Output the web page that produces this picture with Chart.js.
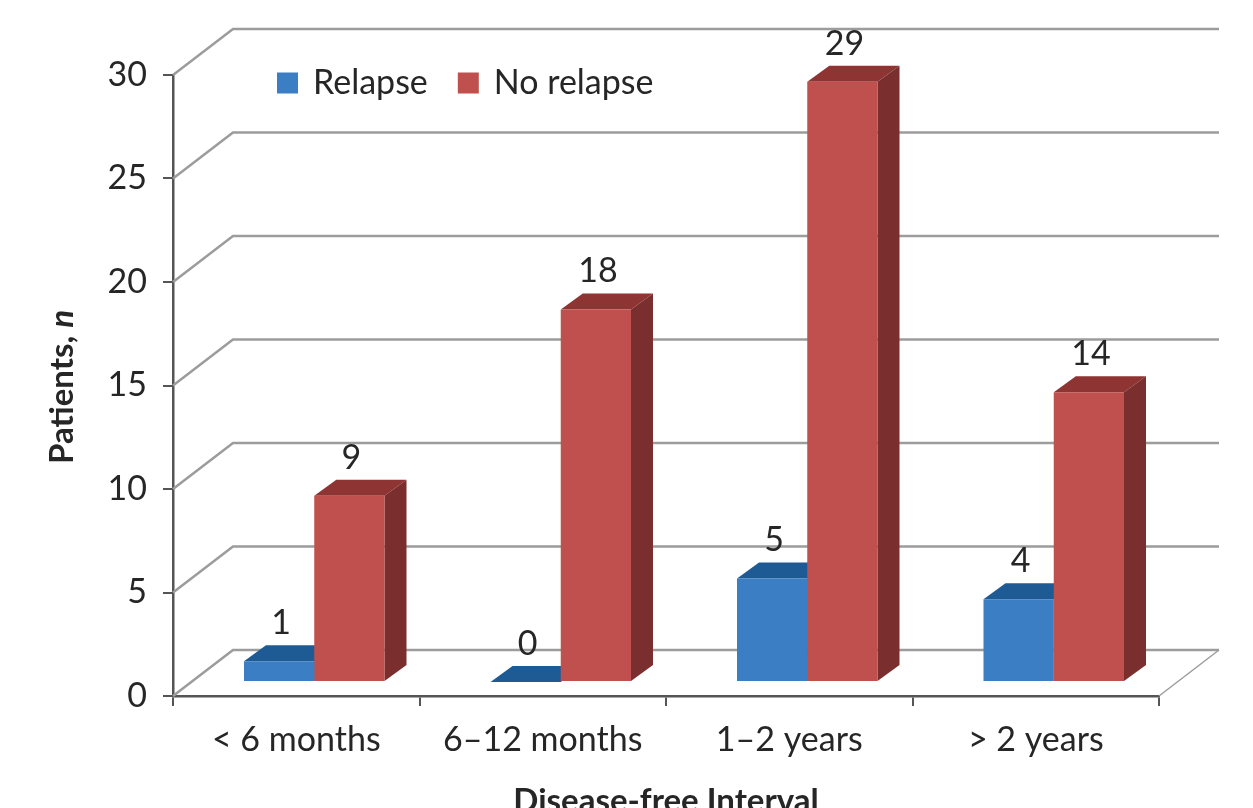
<!DOCTYPE html>
<html>
<head>
<meta charset="utf-8">
<script src="https://cdn.jsdelivr.net/npm/chart.js@4.4.0/dist/chart.umd.min.js"></script>
<style>
  html, body { margin: 0; padding: 0; background: #fff; }
  #wrap { width: 1253px; height: 808px; }
</style>
</head>
<body>
<div id="wrap"><canvas id="myChart" width="1253" height="808"></canvas></div>
<script>
// данные с картинки
const categories = ['< 6 months', '6–12 months', '1–2 years', '> 2 years'];
const relapse = [1, 0, 5, 4];
const noRelapse = [9, 18, 29, 14];
const seriesNames = ['Relapse', 'No relapse'];

const FONT = 'Lato, "Open Sans", sans-serif';
const TXT = '#262626';

// псевдо-3D: глубина стенки, сдвиг столбиков и их толщина
const WX = 60, WY = -46;
const BX = 18, BY = -14;
const DX = 22, DY = -16;
const faceColors = [
    { top: '#1e5b95', side: '#1d5389' },
    { top: '#8e3432', side: '#7a2e2d' }
];

const threeD = {
    id: 'threeD',
    beforeDatasetsDraw(chart) {
        const { ctx, chartArea: a, scales: { y } } = chart;
        ctx.save();
        // стенка с линиями сетки
        ctx.strokeStyle = '#9c9c9c';
        ctx.lineWidth = 2.5;
        y.ticks.forEach(t => {
            const py = y.getPixelForValue(t.value);
            ctx.beginPath();
            ctx.moveTo(a.left, py);
            ctx.lineTo(a.left + WX, py + WY);
            ctx.lineTo(a.right + WX, py + WY);
            ctx.stroke();
        });
        // правый край пола
        ctx.lineWidth = 1.5;
        ctx.beginPath();
        ctx.moveTo(a.right, a.bottom);
        ctx.lineTo(a.right + WX, a.bottom + WY);
        ctx.stroke();

        // верх и бок столбиков (перед ними потом рисуется лицевая грань)
        chart.data.datasets.forEach((ds, i) => {
            const meta = chart.getDatasetMeta(i);
            meta.data.forEach(el => {
                const p = el.getProps(['x', 'y', 'base', 'width'], true);
                const l = p.x - p.width / 2 + BX;
                const r = p.x + p.width / 2 + BX;
                const t = p.y + BY;
                const b = p.base + BY;
                ctx.fillStyle = faceColors[i].top;
                ctx.beginPath();
                ctx.moveTo(l, t);
                ctx.lineTo(l + DX, t + DY);
                ctx.lineTo(r + DX, t + DY);
                ctx.lineTo(r, t);
                ctx.closePath();
                ctx.fill();
                ctx.fillStyle = faceColors[i].side;
                ctx.beginPath();
                ctx.moveTo(r, t);
                ctx.lineTo(r + DX, t + DY);
                ctx.lineTo(r + DX, b + DY);
                ctx.lineTo(r, b);
                ctx.closePath();
                ctx.fill();
            });
        });
        ctx.restore();
        ctx.save();
        ctx.translate(BX, BY);
    },
    afterDatasetsDraw(chart) {
        const { ctx } = chart;
        ctx.restore();
        // подписи значений
        ctx.save();
        ctx.font = '34px ' + FONT;
        ctx.fillStyle = TXT;
        ctx.textAlign = 'center';
        ctx.textBaseline = 'middle';
        chart.data.datasets.forEach((ds, i) => {
            const meta = chart.getDatasetMeta(i);
            meta.data.forEach((el, j) => {
                const p = el.getProps(['x', 'y'], true);
                ctx.fillText(String(ds.data[j]), p.x + BX + 2, p.y + BY - 38);
            });
        });
        ctx.restore();
    },
    afterDraw(chart) {
        const { ctx, chartArea: a } = chart;
        ctx.save();
        // легенда
        ctx.font = '34px ' + FONT;
        ctx.textBaseline = 'middle';
        let lx = 277;
        const ly = 83;
        chart.data.datasets.forEach(ds => {
            ctx.fillStyle = ds.backgroundColor;
            ctx.fillRect(lx, ly - 10.5, 21, 21);
            ctx.fillStyle = TXT;
            ctx.textAlign = 'left';
            ctx.fillText(ds.label, lx + 36, ly);
            lx += 36 + ctx.measureText(ds.label).width + 30;
        });
        // подпись оси X
        ctx.font = 'bold 33px ' + FONT;
        ctx.textAlign = 'center';
        ctx.fillText('Disease-free Interval', (a.left + a.right) / 2, 801);
        // подпись оси Y с курсивной n
        ctx.translate(62, 387);
        ctx.rotate(-Math.PI / 2);
        const part1 = 'Patients, ';
        const w1 = ctx.measureText(part1).width;
        ctx.font = 'italic bold 33px ' + FONT;
        const w2 = ctx.measureText('n').width;
        ctx.textAlign = 'left';
        ctx.font = 'bold 33px ' + FONT;
        ctx.fillText(part1, -(w1 + w2) / 2, 0);
        ctx.font = 'italic bold 33px ' + FONT;
        ctx.fillText('n', -(w1 + w2) / 2 + w1, 0);
        ctx.restore();
    }
};

const ctx = document.getElementById('myChart').getContext('2d');
const myChart = new Chart(ctx, {
    type: 'bar',
    data: {
        labels: categories,
        datasets: [{
            label: seriesNames[0],
            data: relapse,
            backgroundColor: '#3b7ec3',
            clip: false
        }, {
            label: seriesNames[1],
            data: noRelapse,
            backgroundColor: '#c0504d',
            clip: false
        }]
    },
    options: {
        responsive: false,
        animation: false,
        layout: { padding: { top: 75, right: 94, left: 0, bottom: 0 } },
        plugins: {
            legend: { display: false },
            tooltip: { enabled: false }
        },
        datasets: {
            bar: {
                categoryPercentage: 0.57,
                barPercentage: 1,
                borderWidth: 0
            }
        },
        scales: {
            x: {
                afterFit: (s) => { s.height = 112; },
                grid: {
                    drawOnChartArea: false,
                    tickLength: 10,
                    color: '#555',
                    lineWidth: 2
                },
                border: { color: '#555', width: 2.5 },
                ticks: {
                    color: TXT,
                    font: { family: FONT, size: 34 },
                    padding: 14,
                    maxRotation: 0
                }
            },
            y: {
                min: 0,
                max: 30,
                afterFit: (s) => { s.width = 173; },
                grid: {
                    drawOnChartArea: false,
                    tickLength: 10,
                    color: '#555',
                    lineWidth: 2
                },
                border: { color: '#555', width: 2.5 },
                ticks: {
                    stepSize: 5,
                    color: TXT,
                    font: { family: FONT, size: 34 },
                    padding: 16
                }
            }
        }
    },
    plugins: [threeD]
});
</script>
</body>
</html>
